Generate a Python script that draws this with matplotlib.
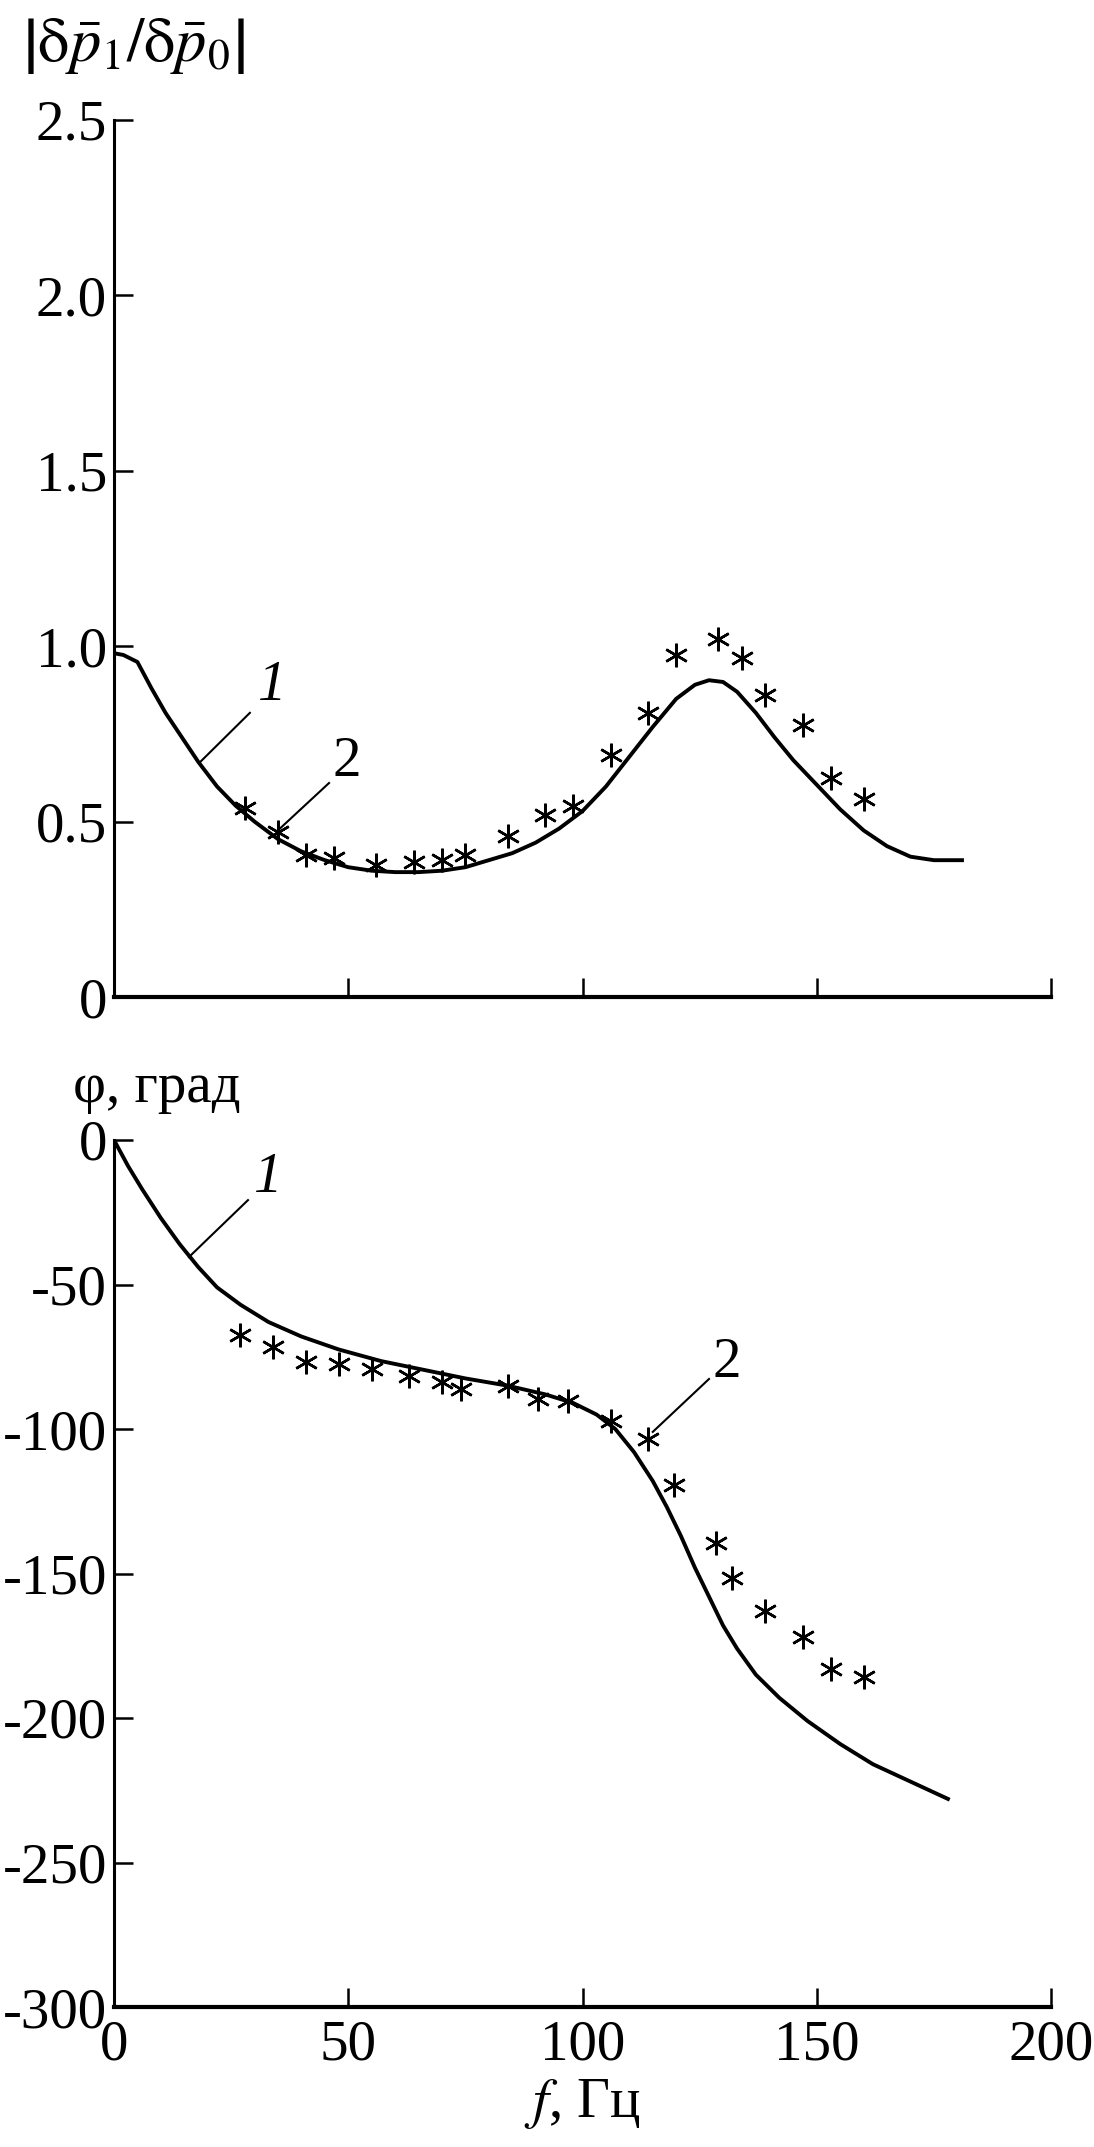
import numpy as np
import matplotlib
matplotlib.use('Agg')
import matplotlib.pyplot as plt

# =================================================================
# 1. Данные
# =================================================================
# амплитуда |dp1/dp0|: расчёт (1) и эксперимент (2)
f_amp_calc = [0, 2, 5, 8, 11, 14, 18, 22, 26, 30, 35, 40, 45, 50, 55, 60, 65, 70, 75,
              80, 85, 90, 95, 100, 105, 110, 115, 120, 124, 127, 130, 133, 137,
              141, 145, 150, 155, 160, 165, 170, 175, 181]
amp_calc = [0.98, 0.975, 0.955, 0.88, 0.81, 0.75, 0.67, 0.60, 0.545, 0.50, 0.45, 0.415,
            0.39, 0.37, 0.36, 0.356, 0.356, 0.36, 0.37, 0.39, 0.41, 0.44, 0.48, 0.53,
            0.60, 0.685, 0.77, 0.85, 0.89, 0.903, 0.898, 0.87, 0.81, 0.74, 0.675, 0.605,
            0.535, 0.475, 0.43, 0.40, 0.39, 0.39]
f_amp_exp = [28, 35, 41, 47, 56, 64, 70, 75, 84, 92, 98, 106, 114, 120, 129, 134,
             139, 147, 153, 160]
amp_exp = [0.54, 0.47, 0.405, 0.395, 0.375, 0.385, 0.39, 0.405, 0.46, 0.52, 0.545,
           0.69, 0.81, 0.975, 1.02, 0.965, 0.86, 0.775, 0.625, 0.565]

# фаза, град
f_ph_calc = [0, 3, 6, 10, 14, 18, 22, 27, 33, 40, 48, 57, 66, 75, 84, 92, 98, 103,
             107, 111, 115, 118, 121, 124, 127, 130, 133, 137, 142, 148, 155, 162,
             170, 178]
ph_calc = [0, -9, -17, -27, -36, -44, -51, -57, -63, -68, -72.5, -76.5, -79.5, -82.5,
           -85, -88, -91, -95, -100, -108, -118, -127, -137, -148, -158, -168, -176,
           -185, -193, -201, -209, -216, -222, -228]
f_ph_exp = [27, 34, 41, 48, 55, 63, 70, 74, 84, 90.5, 97, 106, 114, 119.5, 128.5,
            132, 139, 147, 153, 160]
ph_exp = [-67.6, -71.7, -76.9, -77.5, -79.2, -81.5, -83.8, -86.1, -85, -89.6, -90.2,
          -97.1, -103.5, -119.4, -139.4, -151.4, -162.9, -172, -182.9, -185.7]

x_ticks = [0, 50, 100, 150, 200]
amp_ticks = [0, 0.5, 1.0, 1.5, 2.0, 2.5]
amp_tick_labels = ['0', '0.5', '1.0', '1.5', '2.0', '2.5']
ph_ticks = [0, -50, -100, -150, -200, -250, -300]
ph_tick_labels = ['0', '-50', '-100', '-150', '-200', '-250', '-300']

# =================================================================
# 2. Оформление
# =================================================================
plt.rcParams['font.family'] = ['Liberation Serif', 'DejaVu Serif']
plt.rcParams['mathtext.fontset'] = 'stix'
fs = 41
star = (6, 2, 0)  # звёздочка

fig = plt.figure(figsize=(10.94, 21.47), dpi=100)
ax1 = fig.add_axes([0.1042, 1 - 997 / 2147, 0.8565, 877 / 2147])
ax2 = fig.add_axes([0.1042, 1 - 2007 / 2147, 0.8565, 867 / 2147])


def style_axes(ax):
    for s in ['top', 'right']:
        ax.spines[s].set_visible(False)
    ax.spines['left'].set_linewidth(2.2)
    ax.spines['bottom'].set_linewidth(3)
    ax.tick_params(direction='in', length=14, width=1.8, labelsize=fs, pad=9)
    ax.tick_params(axis='y', pad=5)
    ax.set_xlim(0, 200)
    ax.set_xticks(x_ticks)


# =================================================================
# 3. Верхний график: амплитуда
# =================================================================
style_axes(ax1)
ax1.plot(f_amp_calc, amp_calc, color='black', lw=2.8, solid_joinstyle='round')
ax1.plot(f_amp_exp, amp_exp, ls='none', marker=star, ms=17, mew=1.8, color='black')
ax1.set_ylim(0, 2.5)
ax1.set_yticks(amp_ticks)
ax1.set_yticklabels(amp_tick_labels)
ax1.tick_params(axis='x', labelbottom=False)
# выноски 1, 2
ax1.plot([18.4, 29], [0.67, 0.81], color='black', lw=1.5)
ax1.text(33.7, 0.886, '1', fontsize=fs, fontstyle='italic', ha='center', va='center')
ax1.plot([35.4, 45.9], [0.48, 0.61], color='black', lw=1.5)
ax1.text(49.7, 0.67, '2', fontsize=fs, ha='center', va='center')

fig.text(0.02, 1 - 46 / 2147,
         r'$\left|\mathrm{\delta}\bar{p}_1/\mathrm{\delta}\bar{p}_0\right|$',
         fontsize=45, ha='left', va='center')

# =================================================================
# 4. Нижний график: фаза
# =================================================================
style_axes(ax2)
ax2.plot(f_ph_calc, ph_calc, color='black', lw=2.8, solid_joinstyle='round')
ax2.plot(f_ph_exp, ph_exp, ls='none', marker=star, ms=17, mew=1.8, color='black')
ax2.set_ylim(-300, 0)
ax2.set_yticks(ph_ticks)
ax2.set_yticklabels(ph_tick_labels)
ax2.plot([16, 28.6], [-40.5, -20.8], color='black', lw=1.5)
ax2.text(33, -13, '1', fontsize=fs, fontstyle='italic', ha='center', va='center')
ax2.plot([115, 127], [-101, -82.7], color='black', lw=1.5)
ax2.text(130.7, -77, '2', fontsize=fs, ha='center', va='center')
ax2.set_xlabel(r'$f$, Гц', fontsize=fs, labelpad=4)

fig.text(0.067, 1 - 1088 / 2147, 'φ, град', fontsize=fs, ha='left', va='center')

fig.savefig('out.png', dpi=100)
